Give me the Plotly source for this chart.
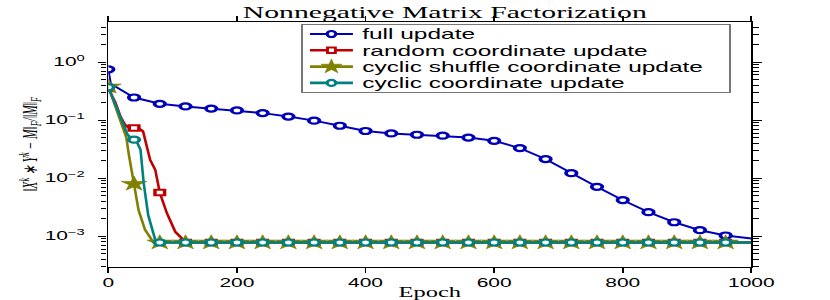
import plotly.graph_objects as go

# ---------------- data ----------------
full_epochs = [0, 4, 40, 80, 120, 160, 200, 240, 280, 320, 360, 400, 440, 480, 520,
               560, 600, 640, 680, 720, 760, 800, 840, 880, 920, 960, 1000]
full_vals = [0.75, 0.42, 0.245, 0.191, 0.172, 0.158, 0.147, 0.132, 0.115, 0.098, 0.080,
             0.065, 0.059, 0.056, 0.054, 0.050, 0.044, 0.033, 0.0213, 0.0122, 0.0071,
             0.0042, 0.0026, 0.00174, 0.00127, 0.00103, 0.00091]

rand_epochs = [0, 11, 19, 26, 31, 40, 48, 54, 65, 73, 80, 91, 104, 114,
               120, 160, 200, 240, 280, 320, 360, 400, 440, 480, 520, 560, 600,
               640, 680, 720, 760, 800, 840, 880, 920, 960, 1000]
rand_vals = [0.35, 0.20, 0.115, 0.083, 0.075, 0.073, 0.071, 0.064, 0.0207, 0.0139,
             0.00565, 0.0025, 0.0012, 0.00093,
             0.00078, 0.00078, 0.00078, 0.00078, 0.00078, 0.00078, 0.00078, 0.00078,
             0.00078, 0.00078, 0.00078, 0.00078, 0.00078, 0.00078, 0.00078, 0.00078,
             0.00078, 0.00078, 0.00078, 0.00078, 0.00078, 0.00078, 0.00078]

shuf_epochs = [0, 8, 16, 24, 28, 32, 36, 40, 47, 57, 65, 70,
               80, 120, 160, 200, 240, 280, 320, 360, 400, 440, 480, 520, 560, 600,
               640, 680, 720, 760, 800, 840, 880, 920, 960, 1000]
shuf_vals = [0.38, 0.21, 0.12, 0.07, 0.05, 0.025, 0.013, 0.0080, 0.0028, 0.0013,
             0.00093, 0.00079,
             0.00078, 0.00078, 0.00078, 0.00078, 0.00078, 0.00078, 0.00078, 0.00078,
             0.00078, 0.00078, 0.00078, 0.00078, 0.00078, 0.00078, 0.00078, 0.00078,
             0.00078, 0.00078, 0.00078, 0.00078, 0.00078, 0.00078, 0.00078, 0.00078]

cyc_epochs = [0, 8, 16, 24, 30, 36, 40, 44, 50, 55, 62, 70, 74,
              80, 120, 160, 200, 240, 280, 320, 360, 400, 440, 480, 520, 560, 600,
              640, 680, 720, 760, 800, 840, 880, 920, 960, 1000]
cyc_vals = [0.37, 0.224, 0.132, 0.077, 0.056, 0.048, 0.046, 0.043, 0.031, 0.0082,
            0.0023, 0.0010, 0.00079,
            0.00078, 0.00078, 0.00078, 0.00078, 0.00078, 0.00078, 0.00078, 0.00078,
            0.00078, 0.00078, 0.00078, 0.00078, 0.00078, 0.00078, 0.00078, 0.00078,
            0.00078, 0.00078, 0.00078, 0.00078, 0.00078, 0.00078, 0.00078, 0.00078]

series_names = ["full update", "random coordinate update",
                "cyclic shuffle coordinate update", "cyclic coordinate update"]

x_tick_vals = [0, 200, 400, 600, 800, 1000]
y_tick_vals = [1e0, 1e-1, 1e-2, 1e-3]
y_tick_text = ["10<sup>0</sup>", "10<sup>\u22121</sup>", "10<sup>\u22122</sup>", "10<sup>\u22123</sup>"]

title_text = "Nonnegative Matrix Factorization"
x_title = "Epoch"
y_title = "<i>\u2016X<sup>k</sup> \u2217 Y<sup>k</sup> \u2212 M\u2016<sub>F</sub>/\u2016M\u2016<sub>F</sub></i>"

# ---------------- styling ----------------
W_OUT, H = 830, 300
W = 475                      # figure is laid out narrower, then stretched horizontally
SX = W_OUT / W

MARK_EVERY = 40
LAST_MARK = 960

styles = [
    dict(color="#0000b8", lw=2.0, sym="circle", size=6, fill="white", mlw=2.2),
    dict(color="#c00000", lw=2.6, sym="square", size=5.5, fill="white", mlw=2.0),
    dict(color="#808000", lw=2.6, sym="star", size=11, fill="#808000", mlw=0.5),
    dict(color="#008080", lw=2.6, sym="circle", size=6, fill="white", mlw=2.2),
]
data = [(full_epochs, full_vals), (rand_epochs, rand_vals),
        (shuf_epochs, shuf_vals), (cyc_epochs, cyc_vals)]

fig = go.Figure()
for name, (xs, ys), st in zip(series_names, data, styles):
    marker = dict(symbol=st["sym"], size=st["size"], color=st["fill"],
                  line=dict(color=st["color"], width=st["mlw"]))
    fig.add_trace(go.Scatter(x=xs, y=ys, mode="lines", showlegend=False,
                             line=dict(color=st["color"], width=st["lw"]),
                             hoverinfo="skip"))
    mx = [x for x in xs if x % MARK_EVERY == 0 and x <= LAST_MARK]
    my = [y for x, y in zip(xs, ys) if x % MARK_EVERY == 0 and x <= LAST_MARK]
    fig.add_trace(go.Scatter(x=mx, y=my, mode="markers", showlegend=False,
                             marker=marker, hoverinfo="skip"))
    fig.add_trace(go.Scatter(x=[None], y=[None], mode="lines+markers", name=name,
                             line=dict(color=st["color"], width=st["lw"]),
                             marker=marker))

axis_common = dict(showline=True, linecolor="black", linewidth=1.2, mirror="ticks",
                   ticks="outside", tickcolor="black", tickwidth=1, ticklen=5,
                   showgrid=False, zeroline=False,
                   tickfont=dict(family="Liberation Sans", size=12, color="black"))

fig.update_layout(
    width=W, height=H,
    margin=dict(l=108 / SX, r=78 / SX, t=22, b=33, autoexpand=False),
    paper_bgcolor="white", plot_bgcolor="white",
    title=dict(text=title_text, x=0.5 + 15 / 644, xref="paper", xanchor="center",
               y=1 - 12 / H, yanchor="middle",
               font=dict(family="Liberation Serif", size=17, color="black")),
    xaxis=dict(range=[0, 1000], tickvals=x_tick_vals,
               title=dict(text=x_title, standoff=2,
                          font=dict(family="Liberation Serif", size=14, color="black")),
               **axis_common),
    yaxis=dict(type="log", range=[-3.53, 0.69], tickvals=y_tick_vals, ticktext=y_tick_text,
               ticklabelstandoff=5,
               minor=dict(ticks="outside", ticklen=3, tickcolor="black",
                          tickvals=[m * 10.0 ** e for e in range(-4, 1) for m in range(2, 10)]),
               title=dict(text=y_title, standoff=0,
                          font=dict(family="Liberation Serif", size=11.5, color="black")),
               **axis_common),
    legend=dict(x=(301 - 108) / 644, y=1 - 2 / 245, xanchor="left", yanchor="top",
                bgcolor="white", bordercolor="#777777", borderwidth=1,
                font=dict(family="Liberation Sans", size=14, color="black"),
                traceorder="normal", itemwidth=30),
)

post = """
var gd = document.getElementById('{plot_id}');
document.documentElement.style.margin='0';
document.body.style.margin='0';
document.body.style.overflow='hidden';
var items = gd.querySelectorAll('g.legend g.traces');
for (var i = 0; i < items.length; i++) {
  var t = items[i].getAttribute('transform') || '';
  var m = /translate\\(\\s*([-\\d.e]+)/.exec(t);
  var x = m ? m[1] : '1';
  items[i].setAttribute('transform', 'translate(' + x + ',' + (10 + 16.3 * i) + ')');
  var lay = items[i].querySelector('g.layers');
  if (lay) { lay.setAttribute('transform', 'scale(0.82,1)'); }
  var tx = items[i].querySelector('text.legendtext');
  if (tx) { tx.setAttribute('x', '34'); }
}
var bg = gd.querySelector('g.legend rect.bg');
if (bg) { bg.setAttribute('height', '68'); bg.setAttribute('width', '245'); }
var cont = gd.querySelectorAll('.svg-container');
for (var c = 0; c < cont.length; c++) { cont[c].style.width = 'WOUTpx'; }
gd.style.width = 'WOUTpx';
var svgs = gd.querySelectorAll('svg.main-svg');
for (var s = 0; s < svgs.length; s++) {
  svgs[s].setAttribute('viewBox', '0 0 WIN HIN');
  svgs[s].setAttribute('preserveAspectRatio', 'none');
  svgs[s].setAttribute('width', 'WOUT');
  svgs[s].style.width = 'WOUTpx';
}
""".replace("WOUT", str(W_OUT)).replace("WIN", str(W)).replace("HIN", str(H))

fig.write_html("out.html", config={"displayModeBar": False}, post_script=post)
